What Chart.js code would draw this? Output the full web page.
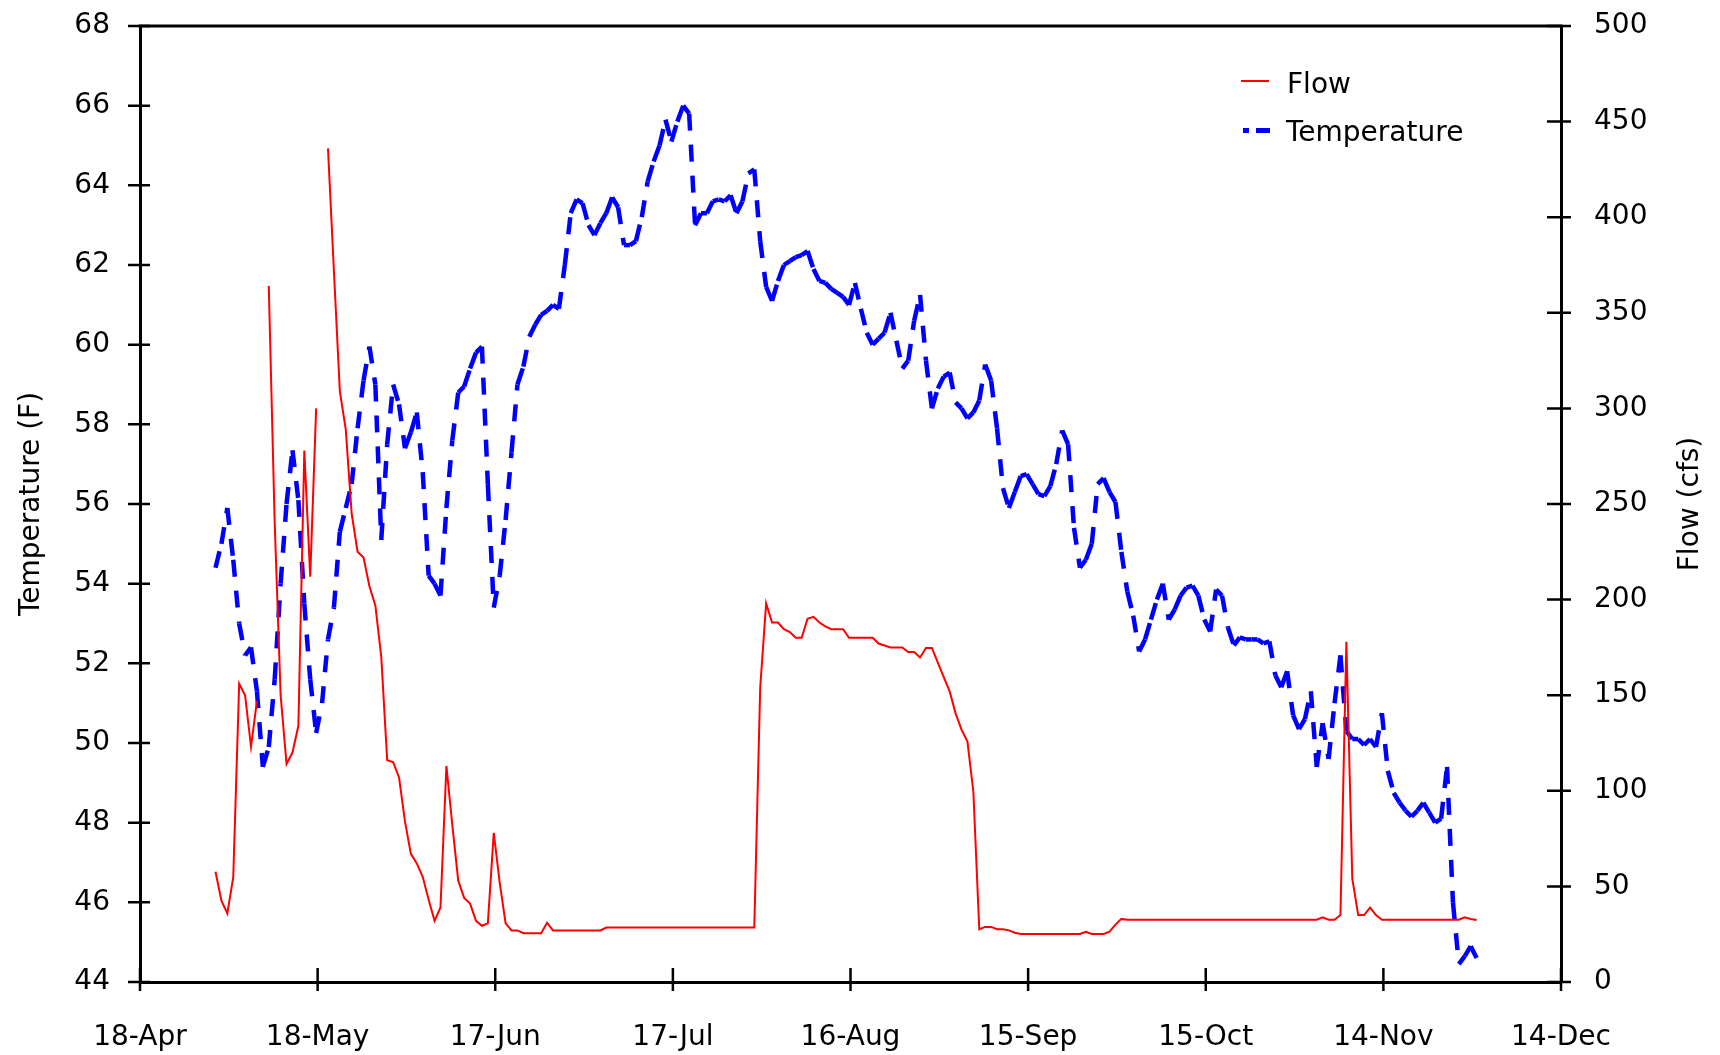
<!DOCTYPE html>
<html>
<head>
<meta charset="utf-8">
<script src="https://cdn.jsdelivr.net/npm/chart.js@4.4.1/dist/chart.umd.min.js"></script>
<style>
  html, body { margin: 0; padding: 0; background: #fff; }
  canvas { display: block; }
</style>
</head>
<body>
<canvas id="chart" width="1720" height="1055"></canvas>
<script>
// x axis: days after 18-Apr, one tick every 30 days
const tickLabels = ['18-Apr', '18-May', '17-Jun', '17-Jul', '16-Aug', '15-Sep', '15-Oct', '14-Nov', '14-Dec'];
const firstDay = 12.75; // first daily reading, days after 18-Apr

// daily flow (cfs), null = missing day
const flowCfs = [
  57.7, 42.5, 35.9, 54.8, 156, 150, 123, 147, null,
  364, 240, 150, 114, 120, 134, 278, 212, 300, null,
  436, 372, 309, 289, 245, 225, 222, 207, 197, 170, 116, 115,
  107, 84, 67, 62, 55, 43, 32, 39, 113, 82, 53,
  44, 41, 32, 29.4, 30.7, 78, 52, 30.7,
  27, 27, 25.5, 25.5, 25.5, 25.5, 31, 27,
  27, 27, 27, 27, 27, 27, 27, 27,
  28.5, 28.5, 28.5, 28.5, 28.5, 28.5, 28.5, 28.5, 28.5, 28.5, 28.5, 28.5, 28.5,
  28.5, 28.5, 28.5, 28.5, 28.5, 28.5, 28.5, 28.5, 28.5, 28.5, 28.5, 28.5, 28.5,
  154, 198, 188, 188, 184.5, 183, 180, 180, 190, 191,
  188, 186, 184.5, 184.5, 184.5, 180, 180, 180, 180, 180,
  177, 176, 175, 175, 175, 172.6, 172.6, 169.7, 174.7, 174.7,
  167, 159.5, 152, 140.5, 132, 125.7, 99.5,
  27.6, 28.8, 28.8, 27.6, 27.6, 27, 25.8,
  25.1, 25.1, 25.1, 25.1, 25.1, 25.1, 25.1, 25.1, 25.1, 25.1, 25.1,
  26.3, 25.1, 25.1, 25.1, 26.3, 30, 33,
  32.6, 32.6, 32.6, 32.6, 32.6, 32.6, 32.6, 32.6, 32.6, 32.6, 32.6,
  32.6, 32.6, 32.6, 32.6, 32.6, 32.6, 32.6, 32.6, 32.6, 32.6, 32.6,
  32.6, 32.6, 32.6, 32.6, 32.6, 32.6, 32.6, 32.6, 32.6, 32.6, 32.6,
  33.8, 32.6, 32.6, 35, 178, 54, 35, 35, 38.9, 35, 32.6,
  32.6, 32.6, 32.6, 32.6, 32.6, 32.6, 32.6, 32.6, 32.6, 32.6, 32.6, 32.6, 32.6,
  33.8, 33, 32.4
];

// daily water temperature (F)
const tempF = [
  54.4, 55.0, 55.9, 54.6, 53.0, 52.2, 52.4, 51.3, 49.4, 49.9,
  51.6, 54.0, 56.0, 57.35, 56.1, 53.5, 51.6, 50.25, 51.0, 52.6,
  53.4, 55.3, 55.9, 56.5, 57.9, 59.1, 59.95, 59.0, 55.1, 57.5,
  59.0, 58.5, 57.4, 57.8, 58.3, 56.8, 54.2, 54.0, 53.7, 55.9,
  57.6, 58.8, 58.95, 59.4, 59.8, 59.95, 56.5, 53.4, 54.2, 55.6,
  57.3, 59.0, 59.45, 60.2, 60.5, 60.75, 60.85, 61.0, 60.9, 62.0,
  63.3, 63.65, 63.55, 63.0, 62.75, 63.05, 63.3, 63.7, 63.45, 62.5,
  62.5, 62.6, 63.2, 64.1, 64.6, 65.0, 65.65, 65.1, 65.6, 66.0,
  65.8, 63.0, 63.3, 63.3, 63.6, 63.65, 63.6, 63.75, 63.3, 63.6,
  64.3, 64.4, 62.6, 61.45, 61.1, 61.6, 62.0, 62.1, 62.2, 62.25,
  62.35, 61.9, 61.6, 61.55, 61.4, 61.3, 61.2, 61.0, 61.55, 60.9,
  60.3, 60.0, 60.15, 60.3, 60.8, 60.1, 59.4, 59.6, 60.6, 61.25,
  59.6, 58.4, 58.9, 59.2, 59.3, 58.55, 58.4, 58.15, 58.3, 58.6,
  59.5, 59.1, 57.9, 56.4, 55.9, 56.3, 56.7, 56.75, 56.5, 56.25,
  56.2, 56.45, 57.0, 57.85, 57.5, 55.4, 54.4, 54.6, 55.0, 56.5,
  56.65, 56.3, 56.05, 54.8, 53.8, 53.2, 52.3, 52.6, 53.1, 53.6,
  54.0, 53.1, 53.35, 53.7, 53.9, 53.95, 53.7, 53.1, 52.8, 53.85,
  53.7, 52.9, 52.45, 52.65, 52.6, 52.6, 52.6, 52.5, 52.55, 51.7,
  51.4, 51.8, 50.7, 50.35, 50.6, 51.3, 49.4, 50.5, 49.6, 51.0,
  52.2, 50.3, 50.1, 50.1, 49.95, 50.1, 49.9, 50.75, 49.3, 48.75,
  48.5, 48.3, 48.15, 48.3, 48.5, 48.25, 48.0, 48.1, 49.4, 46.0,
  44.45, 44.65, 44.9, 44.6
];

const FONT = 'DejaVu Sans';
Chart.defaults.font.family = FONT;
Chart.defaults.font.size = 28;
Chart.defaults.color = '#000';

const flowPts = flowCfs.map((v, i) => ({ x: firstDay + i, y: v }));
const tempPts = tempF.map((v, i) => ({ x: firstDay + i, y: v }));

// keep the fixed axis widths and drop the label overflow padding
function fixWidth(w) {
  return s => {
    s.width = w;
    s.paddingTop = 0;
    s.paddingBottom = 0;
  };
}

// tick marks crossing the axes, top frame, right title and legend
const extras = {
  id: 'extras',
  afterDraw(chart) {
    const { ctx, chartArea: a, scales } = chart;
    ctx.save();
    ctx.strokeStyle = '#000';
    ctx.lineWidth = 3;
    ctx.beginPath();
    ctx.moveTo(a.left - 1.5, a.top);
    ctx.lineTo(a.right + 1.5, a.top);
    ctx.stroke();

    ctx.lineWidth = 2.5;
    ctx.beginPath();
    for (const t of scales.y.ticks) {
      const p = scales.y.getPixelForValue(t.value);
      ctx.moveTo(a.left - 12, p); ctx.lineTo(a.left + 10, p);
    }
    for (const t of scales.y1.ticks) {
      const p = scales.y1.getPixelForValue(t.value);
      ctx.moveTo(a.right - 14, p); ctx.lineTo(a.right + 10, p);
    }
    for (const t of scales.x.ticks) {
      const p = scales.x.getPixelForValue(t.value);
      ctx.moveTo(p, a.bottom - 14); ctx.lineTo(p, a.bottom + 9);
    }
    ctx.stroke();

    ctx.fillStyle = '#000';
    ctx.font = '28px "' + FONT + '"';
    ctx.textBaseline = 'middle';

    // legend
    ctx.strokeStyle = '#ff0000';
    ctx.lineWidth = 2;
    ctx.beginPath();
    ctx.moveTo(1241, 81); ctx.lineTo(1269, 81);
    ctx.stroke();
    ctx.strokeStyle = '#0000ff';
    ctx.lineWidth = 5;
    ctx.setLineDash([6, 7, 14, 100]);
    ctx.beginPath();
    ctx.moveTo(1243, 130.5); ctx.lineTo(1270, 130.5);
    ctx.stroke();
    ctx.setLineDash([]);
    ctx.textAlign = 'left';
    ctx.fillText('Flow', 1287, 86);
    ctx.fillText('Temperature', 1286, 134);

    // right axis title, reading bottom to top
    ctx.translate(1691, (a.top + a.bottom) / 2);
    ctx.rotate(-Math.PI / 2);
    ctx.textAlign = 'center';
    ctx.fillText('Flow (cfs)', 0, 0);
    ctx.restore();
  }
};

new Chart(document.getElementById('chart'), {
  type: 'line',
  data: {
    datasets: [
      {
        label: 'Flow',
        data: flowPts,
        yAxisID: 'y1',
        borderColor: '#ff0000',
        borderWidth: 2,
        pointRadius: 0,
        tension: 0,
        spanGaps: false
      },
      {
        label: 'Temperature',
        data: tempPts,
        yAxisID: 'y',
        borderColor: '#0000ff',
        borderWidth: 4.5,
        borderDash: [17, 14],
        borderCapStyle: 'butt',
        pointRadius: 0,
        tension: 0,
        // restart the dash pattern on every daily segment
        segment: {
          borderDashOffset: c => (c.p0DataIndex % 2 ? 0.01 : 0)
        }
      }
    ]
  },
  options: {
    responsive: false,
    animation: false,
    devicePixelRatio: 1,
    layout: { padding: { top: 26, left: 0, right: 0, bottom: 0 } },
    plugins: {
      legend: { display: false },
      tooltip: { enabled: false }
    },
    scales: {
      x: {
        type: 'linear',
        min: 0,
        max: 240,
        ticks: {
          stepSize: 30,
          padding: 39,
          autoSkip: false,
          maxRotation: 0,
          callback: v => tickLabels[v / 30]
        },
        grid: { display: false, drawTicks: false },
        border: { display: true, color: '#000', width: 3 },
        afterFit: s => { s.height = 73; }
      },
      y: {
        position: 'left',
        min: 44,
        max: 68,
        ticks: { stepSize: 2, padding: 30 },
        grid: { display: false, drawTicks: false },
        border: { display: true, color: '#000', width: 3 },
        title: { display: true, text: 'Temperature (F)', padding: { top: 15, bottom: 0 } },
        afterFit: fixWidth(140)
      },
      y1: {
        position: 'right',
        min: 0,
        max: 500,
        ticks: { stepSize: 50, padding: 33 },
        grid: { display: false, drawTicks: false },
        border: { display: true, color: '#000', width: 3 },
        afterFit: fixWidth(159)
      }
    }
  },
  plugins: [extras]
});
</script>
</body>
</html>
